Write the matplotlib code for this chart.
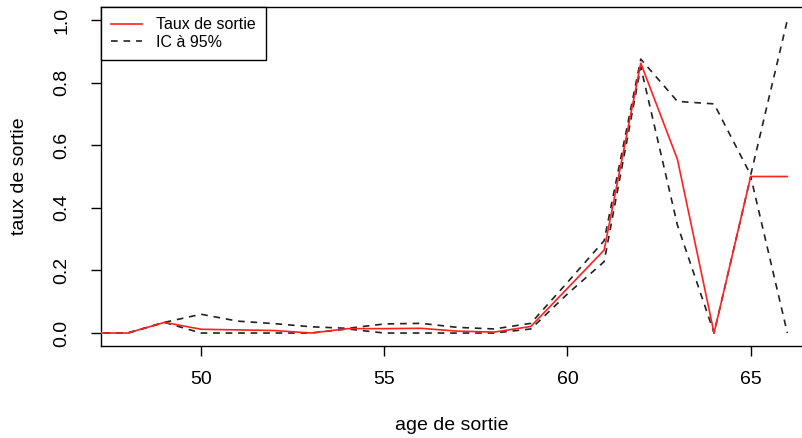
import numpy as np
import matplotlib.pyplot as plt

plt.rcParams['font.family'] = ['Liberation Sans', 'DejaVu Sans']

# ages et taux
ages = [47, 48, 49, 50, 51, 52, 53, 54, 55, 56, 57, 58, 59, 60, 61, 62, 63, 64, 65, 66]
taux = [0, 0, 0.034, 0.012, 0.010, 0.008, 0.0, 0.014, 0.014, 0.015, 0.006, 0.003, 0.021,
        0.143, 0.265, 0.862, 0.555, 0.0, 0.5, 0.5]
ic_haut = [0, 0, 0.034, 0.060, 0.038, 0.030, 0.020, 0.015, 0.029, 0.031, 0.018, 0.013, 0.031,
           0.162, 0.295, 0.875, 0.740, 0.732, 0.505, 1.0]
ic_bas = [0, 0, 0.034, 0.0, 0.0, 0.0, 0.0, 0.013, 0.0, 0.0, 0.0, 0.0, 0.013,
          0.125, 0.228, 0.85, 0.345, 0.0, 0.5, 0.0]

fig = plt.figure(figsize=(8.02, 4.38), dpi=100)
ax = fig.add_axes([0.126, 0.210, 0.874, 0.774])

ax.plot(ages, taux, color='#ff2020', lw=1.2, label='Taux de sortie', zorder=3)
ax.plot(ages, ic_haut, color='#222222', lw=1.2, dashes=(4, 3.5), label='IC à 95%')
ax.plot(ages, ic_bas, color='#222222', lw=1.2, dashes=(4, 3.5))

ax.set_xlim(47.27, 66.4)
ax.set_ylim(-0.0415, 1.0415)
ax.set_xticks([50, 55, 60, 65])
ax.set_yticks([0.0, 0.2, 0.4, 0.6, 0.8, 1.0])
ax.set_yticklabels(['0.0', '0.2', '0.4', '0.6', '0.8', '1.0'], rotation=90, va='center')
ax.tick_params(direction='out', length=7, width=1, labelsize=14)
ax.tick_params(axis='x', pad=11)
ax.tick_params(axis='y', pad=15)
ax.spines['right'].set_visible(False)
for s in ['left', 'bottom', 'top']:
    ax.spines[s].set_linewidth(1)

ax.set_xlabel('age de sortie', fontsize=14)
ax.set_ylabel('taux de sortie', fontsize=14)
ax.xaxis.set_label_coords(0.5, -(425 - 346) / 339)
ax.xaxis.label.set_va('center')
ax.yaxis.set_label_coords((19 - 101) / 701, 0.5)
ax.yaxis.label.set_va('center')

leg = ax.legend(loc='upper left', borderaxespad=0, fancybox=False, edgecolor='black',
                framealpha=1, fontsize=11.5, handlelength=1.9, handletextpad=0.9,
                borderpad=0.65, labelspacing=0.15)
leg.get_frame().set_linewidth(1)

fig.savefig('out.png', dpi=100)
